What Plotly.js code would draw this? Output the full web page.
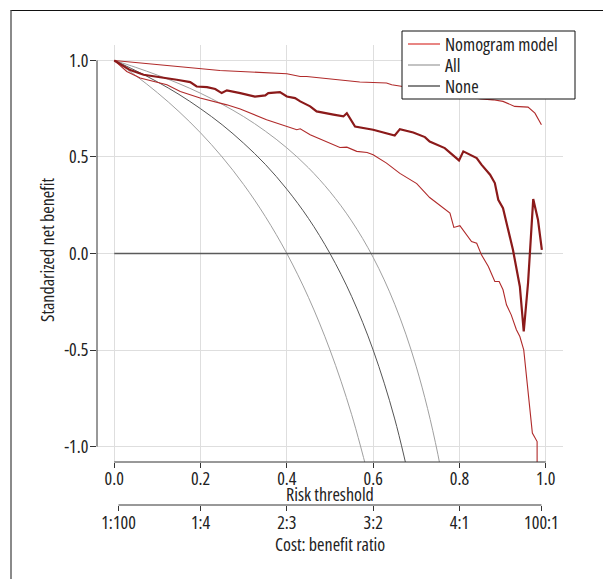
<!DOCTYPE html>
<html>
<head>
<meta charset="utf-8">
<script src="https://cdn.plot.ly/plotly-3.0.1.min.js"></script>
<style>
  html, body { margin: 0; padding: 0; background: #fff; }
  #wrap { position: relative; width: 606px; height: 579px; }
  #chart { position: absolute; left: 0; top: 0; width: 606px; height: 579px; }
  text, tspan { font-stretch: 75% !important; }
  #frame { position: absolute; left: 10px; top: 10px; width: 591px; height: 569px;
           border-top: 1px solid #111; border-left: 2px solid #8a8a8a; pointer-events: none; }
</style>
</head>
<body>
<div id="wrap">
  <div id="chart"></div>
  <div id="frame"></div>
</div>
<script>
// Nomogram model: estimate (thick) and confidence limits (thin)
const nomX = [0,0.037,0.068,0.122,0.145,0.176,0.191,0.215,0.234,0.249,0.261,0.292,0.326,0.35,0.357,0.384,0.40,0.419,0.431,0.454,0.469,0.508,0.531,0.539,0.558,0.600,0.650,0.662,0.693,0.720,0.731,0.766,0.785,0.799,0.809,0.840,0.851,0.871,0.882,0.890,0.901,0.913,0.924,0.940,0.949,0.959,0.971,0.982,0.991];
const nomY = [1.0,0.95,0.926,0.909,0.90,0.888,0.865,0.862,0.852,0.831,0.845,0.831,0.813,0.819,0.831,0.836,0.813,0.805,0.788,0.762,0.736,0.719,0.710,0.727,0.658,0.641,0.611,0.644,0.627,0.603,0.580,0.546,0.511,0.482,0.529,0.494,0.46,0.408,0.365,0.278,0.235,0.114,0.019,-0.171,-0.404,-0.153,0.282,0.175,0.019];

const nomUpX = [0,0.199,0.245,0.40,0.431,0.446,0.508,0.569,0.600,0.631,0.643,0.70,0.75,0.80,0.85,0.878,0.901,0.928,0.959,0.975,0.990];
const nomUpY = [1.0,0.955,0.948,0.931,0.917,0.917,0.904,0.888,0.886,0.883,0.874,0.855,0.835,0.818,0.80,0.796,0.788,0.762,0.758,0.727,0.667];

const nomLoX = [0,0.029,0.06,0.122,0.153,0.199,0.261,0.292,0.353,0.40,0.423,0.431,0.454,0.477,0.508,0.523,0.539,0.562,0.586,0.600,0.631,0.662,0.701,0.731,0.778,0.787,0.801,0.828,0.840,0.851,0.867,0.882,0.892,0.901,0.909,0.920,0.932,0.940,0.949,0.959,0.969,0.980,0.980];
const nomLoY = [1,0.943,0.909,0.874,0.839,0.805,0.770,0.748,0.693,0.658,0.641,0.646,0.615,0.593,0.563,0.549,0.551,0.529,0.523,0.511,0.468,0.415,0.362,0.29,0.209,0.135,0.144,0.062,0.053,-0.007,-0.067,-0.145,-0.145,-0.188,-0.266,-0.318,-0.395,-0.430,-0.499,-0.706,-0.93,-0.974,-1.2];

// "All" strategy: estimate and confidence limits
const allX   = [0,0.05,0.10,0.15,0.20,0.25,0.30,0.35,0.40,0.45,0.50,0.55,0.60,0.65,0.70,0.75,0.80];
const allLoY = [1,0.921,0.833,0.735,0.625,0.50,0.357,0.192,0.0,-0.227,-0.50,-0.833,-1.25];
const allY   = [1,0.947,0.889,0.824,0.75,0.667,0.571,0.462,0.333,0.182,0.0,-0.222,-0.50,-0.857,-1.333];
const allUpY = [1,0.964,0.924,0.88,0.83,0.773,0.709,0.634,0.547,0.444,0.32,0.169,-0.02,-0.263,-0.587,-1.04,-1.72];

// "None" strategy
const noneX = [0,0.991];
const noneY = [0,0];

// Axis ticks and titles
const riskTicks = [0,0.2,0.4,0.6,0.8,1.0];
const riskLabels = ['0.0','0.2','0.4','0.6','0.8','1.0'];
const costTicks = [0.0099,0.2,0.4,0.6,0.8,0.99];
const costLabels = ['1:100','1:4','2:3','3:2','4:1','100:1'];
const yTicks = [-1,-0.5,0,0.5,1];
const yLabels = ['-1.0','-0.5','0.0','0.5','1.0'];
const xTitle = 'Risk threshold';
const x2Title = 'Cost: benefit ratio';
const yTitle = 'Standarized net benefit';

const legendNames = ['Nomogram model','All','None'];
const legendColors = ['#d9342f','#9a9a9a','#333333'];

const FONT = '"Open Sans", sans-serif';
const FS = 18;
const TXT = '#222';

const traces = [
  {x: allX, y: allLoY, mode:'lines', line:{color:'#a0a0a0', width:1, shape:'spline'}, hoverinfo:'skip'},
  {x: allX, y: allUpY, mode:'lines', line:{color:'#a0a0a0', width:1, shape:'spline'}, hoverinfo:'skip'},
  {x: allX, y: allY, mode:'lines', line:{color:'#555555', width:1, shape:'spline'}, hoverinfo:'skip'},
  {x: noneX, y: noneY, mode:'lines', line:{color:'#5a5a5a', width:1.6}, hoverinfo:'skip'},
  {x: nomUpX, y: nomUpY, mode:'lines', line:{color:'#b02a2a', width:1.1}, hoverinfo:'skip'},
  {x: nomLoX, y: nomLoY, mode:'lines', line:{color:'#b02a2a', width:1.1}, hoverinfo:'skip'},
  {x: nomX, y: nomY, mode:'lines', line:{color:'#8b1a1a', width:2.2}, hoverinfo:'skip'},
  {x:[0.5], y:[0], xaxis:'x2', mode:'markers', marker:{opacity:0}, hoverinfo:'skip'}
];

// geometry helpers (paper coords): plot area 97..563 px wide, paper 45..505 px tall
const PW = 466, PH = 460, PL = 97, PT = 45;
const px2x = p => (p - PL) / PW;
const px2y = p => (PT + PH - p) / PH;
const yDomainStart = px2y(462);

// manual legend box
const legBox = {x0: px2x(402), x1: px2x(575), y0: px2y(99), y1: px2y(31)};
const legRowsPx = [44, 65, 86];

const shapes = [
  {type:'line', xref:'x', yref:'paper', x0:0, x1:1, y0:yDomainStart, y1:yDomainStart, line:{color:'#333', width:1}},
  {type:'line', xref:'x', yref:'paper', x0:costTicks[0], x1:costTicks[costTicks.length-1], y0:0, y1:0, line:{color:'#333', width:1}},
  {type:'line', xref:'paper', yref:'y', x0:0, x1:0, y0:-1, y1:1, line:{color:'#333', width:1}},
  {type:'rect', xref:'paper', yref:'paper', x0:legBox.x0, x1:legBox.x1, y0:legBox.y0, y1:legBox.y1,
   fillcolor:'#ffffff', line:{color:'#111', width:1}, layer:'above'}
];
const annotations = [
  {xref:'paper', yref:'paper', x:0.5, y:px2y(494), text:xTitle, showarrow:false, xanchor:'center', yanchor:'middle', font:{family:FONT, size:FS, color:TXT}},
  {xref:'paper', yref:'paper', x:0.5, y:px2y(544), text:x2Title, showarrow:false, xanchor:'center', yanchor:'middle', font:{family:FONT, size:FS, color:TXT}},
  {xref:'paper', yref:'paper', x:px2x(47), y:px2y(250), text:yTitle, textangle:-90, showarrow:false, xanchor:'center', yanchor:'middle', font:{family:FONT, size:FS, color:TXT}}
];
legendNames.forEach((name, i) => {
  const yy = px2y(legRowsPx[i]);
  shapes.push({type:'line', xref:'paper', yref:'paper', x0:px2x(408), x1:px2x(440), y0:yy, y1:yy,
               line:{color:legendColors[i], width:1.2}, layer:'above'});
  annotations.push({xref:'paper', yref:'paper', x:px2x(443), y:yy, text:name, showarrow:false,
                    xanchor:'left', yanchor:'middle', align:'left', font:{family:FONT, size:FS, color:TXT}});
});

const layout = {
  width: 606, height: 579,
  margin: {l:PL, r:606-PL-PW, t:PT, b:579-PT-PH},
  paper_bgcolor: 'rgba(0,0,0,0)',
  plot_bgcolor: 'rgba(0,0,0,0)',
  font: {family: FONT, size: FS, color: TXT},
  showlegend: false,
  xaxis: {
    range:[-0.04,1.04], anchor:'y', tickmode:'array', tickvals: riskTicks, ticktext: riskLabels,
    ticks:'outside', ticklen:5, tickcolor:'#333', tickwidth:1, ticklabelstandoff:-5,
    showline:false, zeroline:false, showgrid:true, gridcolor:'#dedede', gridwidth:1,
    tickfont:{family:FONT, size:FS, color:TXT}, automargin:false, fixedrange:true
  },
  xaxis2: {
    range:[-0.04,1.04], overlaying:'x', anchor:'free', position:0, side:'bottom',
    tickmode:'array', tickvals: costTicks, ticktext: costLabels,
    ticks:'outside', ticklen:5, tickcolor:'#333', tickwidth:1, ticklabelstandoff:-4,
    showline:false, zeroline:false, showgrid:false,
    tickfont:{family:FONT, size:FS, color:TXT}, automargin:false, fixedrange:true
  },
  yaxis: {
    range:[-1.08,1.08], domain:[yDomainStart,1], tickmode:'array', tickvals: yTicks, ticktext: yLabels,
    ticks:'outside', ticklen:6, tickcolor:'#333', tickwidth:1, ticklabelstandoff:-2,
    showline:false, zeroline:false, showgrid:true, gridcolor:'#dedede', gridwidth:1,
    tickfont:{family:FONT, size:FS, color:TXT}, automargin:false, fixedrange:true
  },
  shapes: shapes,
  annotations: annotations
};

Plotly.newPlot('chart', traces, layout, {displayModeBar:false, staticPlot:true});
</script>
</body>
</html>
